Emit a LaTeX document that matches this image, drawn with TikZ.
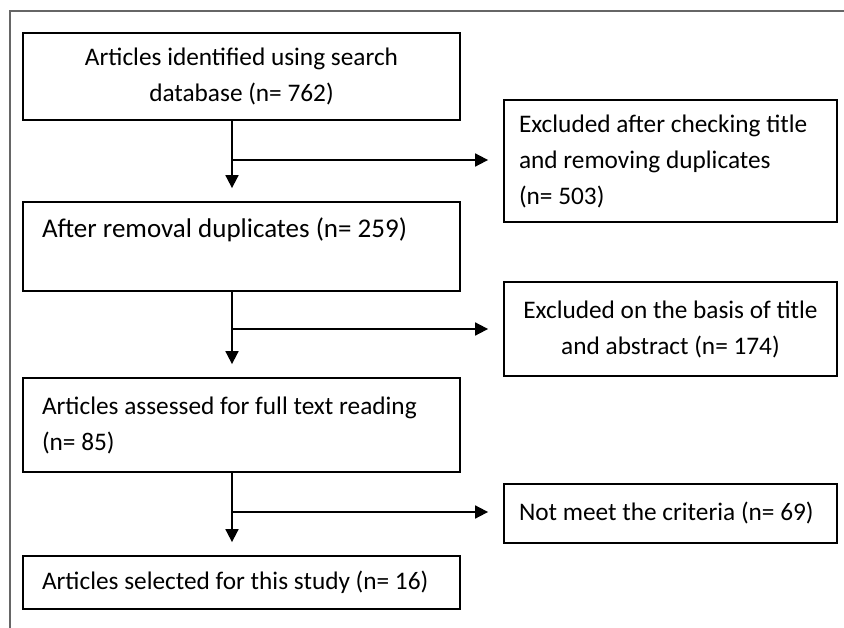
\documentclass[tikz,border=0pt]{standalone}
\usepackage{fontspec}
\setmainfont{Carlito}
\usetikzlibrary{arrows.meta}

\begin{document}
\begin{tikzpicture}[x=1pt,y=-1pt,
  every node/.style={font=\fontsize{25.3}{36}\selectfont},
  leftbox/.style={draw,line width=1.8pt,inner xsep=19pt,inner ysep=0pt,text width=399pt,align=flush left},
  rightbox/.style={draw,line width=1.8pt,inner xsep=15pt,inner ysep=0pt,text width=303pt,align=flush left},
  flow/.style={line width=1.8pt,-{Triangle[width=13pt,length=13pt]}}]

\useasboundingbox (0,0) rectangle (844,628);

% frame of the page
\draw [gray!80!black,line width=1.5pt] (10,628) -- (10,11) -- (844,11);

% main column
\node [leftbox,align=flush center,minimum height=87pt] (search) at (241.5,76.5) {Articles identified using search\\database (n= 762)};
\node [leftbox,font=\fontsize{27}{37}\selectfont,minimum height=89pt] (dedup) at (241.5,246.5) {After removal duplicates (n= 259)\\ \mbox{}};
\node [leftbox,minimum height=94pt] (fulltext) at (241.5,425) {Articles assessed for full text reading\\(n= 85)};
\node [leftbox,minimum height=53pt] (selected) at (241.5,582.5) {Articles selected for this study (n= 16)};

% excluded column
\node [rightbox,minimum height=122pt] (exdup) at (670.5,161) {Excluded after checking title\\and removing duplicates\\(n= 503)};
\node [rightbox,align=flush center,minimum height=94pt] (exabs) at (670.5,329) {Excluded on the basis of title\\and abstract (n= 174)};
\node [rightbox,minimum height=59pt] (excrit) at (670.5,513.5) {Not meet the criteria (n= 69)};

% branch points
\coordinate (b1) at (232,160);
\coordinate (b2) at (232,329);
\coordinate (b3) at (232,512);

\draw [flow,shorten >=13pt] (search.south -| b1) -- (dedup.north -| b1);
\draw [flow,shorten >=15pt] (b1) -- (b1 -| exdup.west);

\draw [flow,shorten >=13pt] (dedup.south -| b2) -- (fulltext.north -| b2);
\draw [flow,shorten >=15pt] (b2) -- (b2 -| exabs.west);

\draw [flow,shorten >=13pt] (fulltext.south -| b3) -- (selected.north -| b3);
\draw [flow,shorten >=15pt] (b3) -- (b3 -| excrit.west);

\end{tikzpicture}
\end{document}
